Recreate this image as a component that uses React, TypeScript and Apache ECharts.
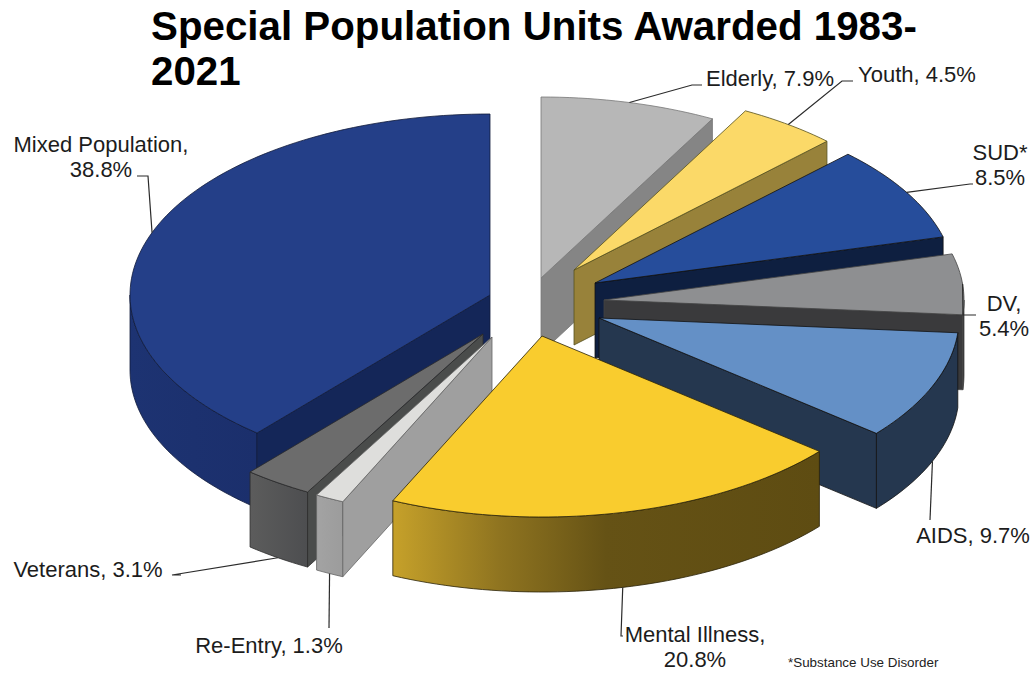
import React, { useEffect, useRef } from "react";
import * as echarts from "echarts";

const categories = ["Elderly", "Youth", "SUD*", "DV", "AIDS", "Mental Illness", "Re-Entry", "Veterans", "Mixed Population"];
const percents = [7.9, 4.5, 8.5, 5.4, 9.7, 20.8, 1.3, 3.1, 38.8];
const titleText = "Special Population Units Awarded 1983-\n2021";
const footnote = "*Substance Use Disorder";

// Styling and layout of the exploded 3-D pie
const RX = 360, RY = 181, DEPTH = 75;
const drawOrder = [0, 1, 2, 3, 4, 8, 7, 6, 5];
const centers = [[541, 278], [574, 270], [595, 283], [604, 300], [599, 318], [542, 336], [492, 337], [483, 334], [490, 295]];
const topColors = ["#B7B7B7", "#FBD968", "#264D9B", "#8E8F91", "#6490C6", "#F9CC2E", "#DEDEDC", "#6C6C6C", "#243F88"];
const innerColors = ["#858585", "#98823A", "#0E1F40", "#3A3A3C", "#25374F", "#5F4E13", "#9F9F9F", "#4A4C4B", "#142658"];
const edgeColors = ["#777777", "#55501f", "#111111", "#444444", "#111111", "#2a2208", "#666666", "#2b2b2b", "#101a3a"];
const outerStops = [
  [["0", "#858585"], ["1", "#858585"]],
  [["0", "#98823A"], ["1", "#98823A"]],
  [["0", "#0E1F40"], ["1", "#0E1F40"]],
  [["0", "#2c2c2e"], ["1", "#2c2c2e"]],
  [["0", "#25374F"], ["1", "#25374F"]],
  [["0", "#C6A12A"], ["0.25", "#8F7420"], ["0.5", "#655215"], ["1", "#5E4C12"]],
  [["0", "#A3A3A3"], ["1", "#9C9C9C"]],
  [["0", "#5C5C5C"], ["1", "#4D4E50"]],
  [["0", "#1D3372"], ["1", "#1B2F6C"]],
];
// Leader lines start on the slice's mid-angle; these are the remaining bends
const leaderBends = [
  [[692, 85], [702, 85]],
  [[842, 81], [853, 81]],
  [[970, 184], [973, 184]],
  [[963, 315], [976, 315]],
  [[930, 520]],
  [[621, 636], [623, 636]],
  [[329, 628]],
  [[172, 575], [181, 575]],
  [[148, 176], [137, 176]],
];
const labelLines = [
  { lines: 1, x: 770, y: 78 },
  { lines: 1, x: 917, y: 74 },
  { lines: 2, x: 1000, y: 152 },
  { lines: 2, x: 1004, y: 303 },
  { lines: 1, x: 973, y: 535 },
  { lines: 2, x: 695, y: 634 },
  { lines: 1, x: 269, y: 645 },
  { lines: 1, x: 88, y: 569 },
  { lines: 2, x: 101, y: 144 },
];

const LABEL_FONT = '"Liberation Sans", Arial, sans-serif';
const toRad = (d: number) => (d * Math.PI) / 180;

function sliceAngles(i: number) {
  const total = percents.reduce((a, b) => a + b, 0);
  const before = percents.slice(0, i).reduce((a, b) => a + b, 0);
  return [(before / total) * 360, ((before + percents[i]) / total) * 360];
}
function pointAt(i: number, deg: number, drop = 0) {
  const [cx, cy] = centers[i];
  return [cx + RX * Math.sin(toRad(deg)), cy - RY * Math.cos(toRad(deg)) + drop];
}
function arcPoints(i: number, from: number, to: number, drop = 0) {
  const pts: number[][] = [];
  const n = Math.max(2, Math.ceil((to - from) / 1.5));
  for (let k = 0; k <= n; k++) pts.push(pointAt(i, from + ((to - from) * k) / n, drop));
  return pts;
}

function renderSlice(params: any) {
  const i = drawOrder[params.dataIndex];
  const [a0, a1] = sliceAngles(i);
  const [cx, cy] = centers[i];
  const stroke = { stroke: edgeColors[i], lineWidth: 0.8, lineJoin: "round" };
  const children: any[] = [];

  const from = Math.max(a0, 90);
  const to = Math.min(a1, 270);
  if (to > from) {
    const points = [...arcPoints(i, from, to), ...arcPoints(i, from, to, DEPTH).reverse()];
    children.push({
      type: "polygon",
      shape: { points },
      style: {
        fill: new echarts.graphic.LinearGradient(0, 0, 1, 0, outerStops[i].map(([o, c]) => ({ offset: Number(o), color: c }))),
        ...stroke,
      },
    });
  }
  const face = (deg: number) => {
    const p = pointAt(i, deg);
    children.push({
      type: "polygon",
      shape: { points: [[cx, cy], p, [p[0], p[1] + DEPTH], [cx, cy + DEPTH]] },
      style: { fill: innerColors[i], ...stroke },
    });
  };
  if (Math.sin(toRad(a1)) > 0.001) face(a1);
  if (Math.sin(toRad(a0)) < -0.001) face(a0);
  children.push({
    type: "polygon",
    shape: { points: [[cx, cy], ...arcPoints(i, a0, a1)] },
    style: { fill: topColors[i], ...stroke },
  });
  return { type: "group", children };
}

function renderLabel(params: any) {
  const i = params.dataIndex;
  const [a0, a1] = sliceAngles(i);
  const mid = (a0 + a1) / 2;
  const front = Math.cos(toRad(mid)) < 0;
  const anchor = pointAt(i, mid, front ? DEPTH : 0);
  const pct = `${percents[i].toFixed(1)}%`;
  const name = categories[i];
  const layout = labelLines[i];
  const sep = name === "SUD*" ? "" : ",";
  const text = layout.lines === 2 ? `${name}${sep}\n${pct}` : `${name}, ${pct}`;
  return {
    type: "group",
    children: [
      {
        type: "polyline",
        shape: { points: [anchor, ...leaderBends[i]] },
        style: { stroke: "#2b2b2b", lineWidth: 1.2, fill: "none" },
      },
      {
        type: "text",
        style: {
          x: layout.x,
          y: layout.lines === 2 ? layout.y + 12.5 : layout.y,
          text,
          fill: "#1c1c1c",
          font: `22px ${LABEL_FONT}`,
          lineHeight: 25,
          align: "center",
          verticalAlign: "middle",
        },
      },
    ],
  };
}

export default function App() {
  const ref = useRef<HTMLDivElement>(null);
  useEffect(() => {
    const chart = echarts.init(ref.current!, undefined, { renderer: "svg" });
    chart.setOption({
      animation: false,
      backgroundColor: "#ffffff",
      title: {
        text: titleText,
        left: 151,
        top: 4,
        padding: 0,
        textStyle: { fontFamily: LABEL_FONT, fontSize: 40.3, fontWeight: "bold", color: "#000000", lineHeight: 45 },
      },
      graphic: [
        {
          type: "text",
          x: 788,
          y: 662,
          style: { text: footnote, fill: "#222222", font: `13.4px ${LABEL_FONT}`, verticalAlign: "middle" },
        },
      ],
      series: [
        {
          type: "custom",
          coordinateSystem: "none",
          data: drawOrder.map((i) => ({ name: categories[i], value: percents[i] })),
          renderItem: renderSlice,
          silent: true,
          z: 2,
        },
        {
          type: "custom",
          coordinateSystem: "none",
          data: categories.map((c, i) => ({ name: c, value: percents[i] })),
          renderItem: renderLabel,
          silent: true,
          z: 3,
        },
      ],
    });
    return () => chart.dispose();
  }, []);
  return <div ref={ref} style={{ position: "absolute", left: 0, top: 0, width: 1033, height: 674 }} />;
}
